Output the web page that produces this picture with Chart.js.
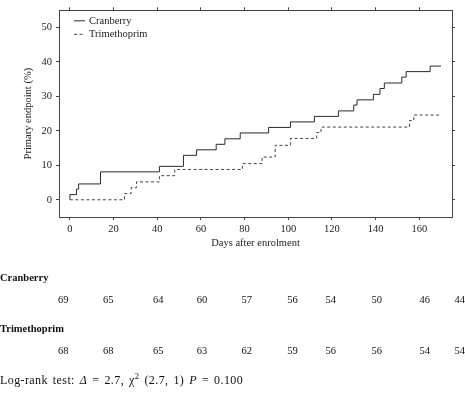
<!DOCTYPE html>
<html>
<head>
<meta charset="utf-8">
<script src="https://cdn.jsdelivr.net/npm/chart.js@4.4.0/dist/chart.umd.min.js"></script>
<style>
  html, body { margin: 0; padding: 0; background: #fff; }
  #wrap { width: 465px; height: 400px; }
</style>
</head>
<body>
<div id="wrap"><canvas id="km" width="465" height="400"></canvas></div>
<script>
// Kaplan-Meier steps (day of event, cumulative % reaching primary endpoint)
const cranDays = [0, 0, 3, 4, 14, 41, 52, 58, 67, 71, 78, 91, 101, 112, 123, 130, 131.5, 139, 142, 144, 152, 154, 165, 170];
const cranPct  = [0, 1.5, 3.1, 4.6, 8.1, 9.7, 12.9, 14.5, 16.1, 17.7, 19.4, 21.0, 22.6, 24.2, 25.8, 27.5, 29.0, 30.6, 32.3, 33.9, 35.6, 37.2, 38.8, 38.8];
const trimDays = [0, 25, 28, 30.5, 41, 48, 79, 88, 94, 101, 113, 115, 155.5, 157.5, 170];
const trimPct  = [0, 1.8, 3.5, 5.2, 7.0, 8.8, 10.5, 12.4, 15.8, 17.8, 19.5, 21.1, 23.0, 24.6, 24.6];

// numbers at risk
const cranRisk = [69, 65, 64, 60, 57, 56, 54, 50, 46, 44];
const trimRisk = [68, 68, 65, 63, 62, 59, 56, 56, 54, 54];

// axis ticks
const xTicks = [0, 20, 40, 60, 80, 100, 120, 140, 160];
const yTicks = [0, 10, 20, 30, 40, 50];

const serif = "'Liberation Serif', 'DejaVu Serif', serif";
const axisColor = '#444';

// where the at-risk columns sit, in x-axis units
const riskColumnDays = [-3, 17.5, 40.5, 60.5, 81, 102, 119.5, 140.5, 162.5, 178.5];

const toPoints = (days, pct) => days.map((d, i) => ({ x: d, y: pct[i] }));
const fixTicks = list => s => { s.ticks = list.map(v => ({ value: v })); };

const overlay = {
  id: 'overlay',
  afterDraw(chart) {
    const ctx = chart.ctx;
    const area = chart.chartArea;
    const xs = chart.scales.x;
    ctx.save();

    // legend inside the plot
    ctx.font = '10.5px ' + serif;
    ctx.textBaseline = 'middle';
    ctx.textAlign = 'left';
    chart.data.datasets.forEach((ds, i) => {
      const y = area.top + 10.5 + i * 13.5;
      ctx.strokeStyle = ds.borderColor;
      ctx.lineWidth = 1;
      ctx.setLineDash(ds.borderDash || []);
      ctx.beginPath();
      ctx.moveTo(area.left + 15, y);
      ctx.lineTo(area.left + 26, y);
      ctx.stroke();
      ctx.fillStyle = '#222';
      ctx.fillText(ds.label, area.left + 30, y);
    });
    ctx.setLineDash([]);

    // numbers at risk table
    const rows = [
      { name: 'Cranberry', vals: cranRisk },
      { name: 'Trimethoprim', vals: trimRisk }
    ];
    rows.forEach((r, i) => {
      const base = area.bottom + 61 + i * 51;
      ctx.font = 'bold 10.5px ' + serif;
      ctx.textAlign = 'left';
      ctx.fillStyle = '#111';
      ctx.fillText(r.name, 0, base);
      ctx.font = '10.5px ' + serif;
      ctx.textAlign = 'center';
      r.vals.forEach((v, j) => {
        ctx.fillText(String(v), xs.getPixelForValue(riskColumnDays[j]), base + 22.5);
      });
    });

    // log-rank line
    let x = 0;
    const y = area.bottom + 164;
    ctx.textAlign = 'left';
    const piece = (txt, font, dy) => {
      ctx.font = font;
      for (const ch of txt) {
        ctx.fillText(ch, x, y + (dy || 0));
        x += ctx.measureText(ch).width + (ch === ' ' ? 2 : 0.4);
      }
    };
    const reg = '12px ' + serif;
    piece('Log-rank test: ', reg);
    piece('\u0394', 'italic 12px ' + serif);
    piece(' = 2.7, ', reg);
    piece('\u03c7', reg);
    piece('2', '8.5px ' + serif, -4.5);
    piece(' (2.7, 1) ', reg);
    piece('P', 'italic 12px ' + serif);
    piece(' = 0.100', reg);

    ctx.restore();
  }
};

const frameGrid = { drawOnChartArea: false, drawTicks: true, tickLength: 3, color: axisColor };
const frameBorder = { display: true, color: axisColor, width: 1 };
const tickFont = { family: serif, size: 10.5 };

new Chart(document.getElementById('km'), {
  type: 'line',
  data: {
    datasets: [
      {
        label: 'Cranberry',
        data: toPoints(cranDays, cranPct),
        borderColor: '#2a2a2a',
        borderWidth: 1,
        stepped: 'before',
        pointRadius: 0,
        fill: false
      },
      {
        label: 'Trimethoprim',
        data: toPoints(trimDays, trimPct),
        borderColor: '#444',
        borderWidth: 1,
        borderDash: [3, 2.5],
        stepped: 'before',
        pointRadius: 0,
        fill: false
      }
    ]
  },
  options: {
    responsive: false,
    animation: false,
    layout: { padding: { left: 0, right: 0, top: 0, bottom: 148 } },
    plugins: { legend: { display: false }, tooltip: { enabled: false } },
    scales: {
      x: {
        type: 'linear', position: 'bottom', min: -5, max: 175,
        grid: frameGrid, border: frameBorder,
        afterBuildTicks: fixTicks(xTicks),
        ticks: { padding: 3, color: '#222', font: tickFont },
        title: { display: true, text: 'Days after enrolment', color: '#222', font: tickFont, padding: { top: 1, bottom: 2 } },
        afterFit: s => { s.height = 35; }
      },
      x2: {
        type: 'linear', position: 'top', min: -5, max: 175,
        grid: frameGrid, border: frameBorder,
        afterBuildTicks: fixTicks(xTicks),
        ticks: { display: false },
        afterFit: s => { s.height = 3; }
      },
      y: {
        type: 'linear', position: 'left', min: -5, max: 55,
        grid: frameGrid, border: frameBorder,
        afterBuildTicks: fixTicks(yTicks),
        ticks: { padding: 4, color: '#222', font: tickFont },
        title: { display: true, text: 'Primary endpoint (%)', color: '#222', font: tickFont, padding: { top: 22, bottom: 0 } },
        afterFit: s => { s.width = 59; }
      },
      y2: {
        type: 'linear', position: 'right', min: -5, max: 55,
        grid: frameGrid, border: frameBorder,
        afterBuildTicks: fixTicks(yTicks),
        ticks: { display: false },
        afterFit: s => { s.width = 13; }
      }
    }
  },
  plugins: [overlay]
});
</script>
</body>
</html>
